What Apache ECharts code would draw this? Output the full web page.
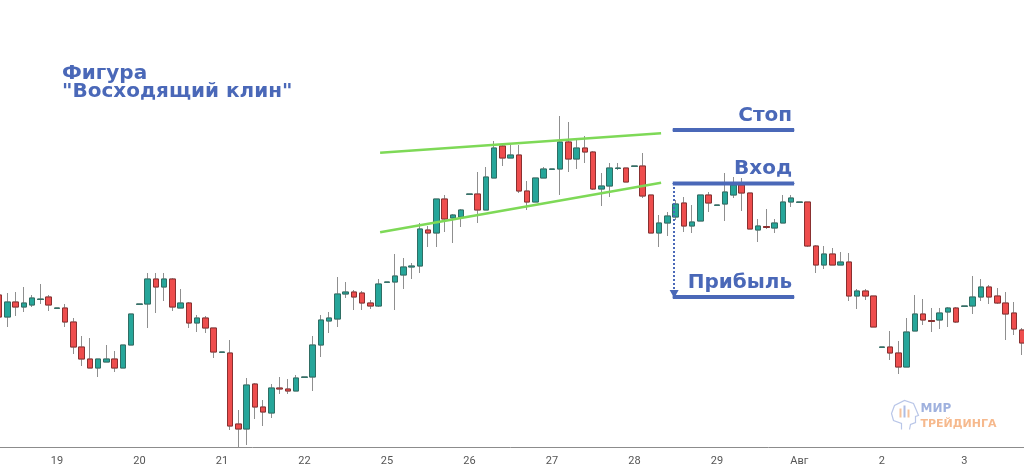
<!DOCTYPE html>
<html>
<head>
<meta charset="utf-8">
<script src="https://cdn.jsdelivr.net/npm/echarts@6/dist/echarts.min.js"></script>
<style>
html,body{margin:0;padding:0;background:#fff;overflow:hidden;width:1024px;height:473px;position:relative;}
#chart{position:absolute;left:-5px;top:0;width:1040px;height:473px;}
</style>
</head>
<body>
<div id="chart"></div>
<script>
// Day tick labels (first label belongs to the partial day before "19")
const dayLabels = ['16','19','20','21','22','25','26','27','28','29','Авг','2','3'];
const barsPerDay = 10;
const firstDayOffset = 3; // bars of first (partial) day that are not visible

// OHLC values (arbitrary price units)
const opens  = [205,183,198,193,195,200.5,203,191.7,192,178,153,141,132,138,141,132,155,195.7,196,221,213,221,192,197,177,182,172,147.7,147,76,71,116,93,87,112,111,109,122.7,123,155,179,181,206,208,207,197,194,217.7,218,225,233,234,270,267,301,282,283,305.7,306,290,322,354,342,345,309,298,322,330.7,331,358,341,352,348,311,314,331.5,332,333.7,334,305,267,277,283,297,274,279,305,294.7,296,305,315,307,270,273.5,272,277,298,297.7,298,254,235,246,235,238,204,209,204,152.7,153,147,133,169,186,179.5,180,188,192,193.7,194,203,213,204,197,187,170];
const closes = [183,198,193,197,202,201,195,192,178,153,141,132,141,141,132,155,186,196,221,213,221,193,197,177,182,172,148,148,74,71,115,93,88,112,111,109,122,123,155,180,182,206,208,203,197,194,216,218,224,233,234,271,267,301,281,285,290,306,290,323,352,342,345,309,298,322,331,331,358,341,352,348,311,314,332,332,318,334,304,267,277,284,296,274,278,305,297,295,308,315,307,271,274,272.5,277,298,302,298,254,235,246,235,238,204,209,204,173,153,147,133,168,186,180,178.5,187,192,178,194,203,213,203,197,186,171,157];
const lows   = [180,173,184,188,193,196,189,191.7,173,146,134,132,123,138,128,132,155,195.7,172,187,199,189,192,172,168,167,142,147.7,70,52,55,81,74,82,106,106,109,122.7,109,143,167,173,202,190,190,191,193,217.7,190,211,221,227,253,253,268,257,273,305.7,277,290,322,334,342,307,290,298,322,330.7,305,328,331,337,310,294,303,330,318,333.7,302,267,253,264,280,268,267,279,288,294.7,279,302,289,271,258,271,267,277,293,297.7,253,227,231,235,235,199,191,200,173,152.7,140,126,133,169,175,168,171,173,177,193.7,186,199,196,196,160,165,145];
const highs  = [208,207,208,213,205,216,205,192,196,182,164,162,141,155,149,155,186,196,227,227,227,222,211,198,185,184,172,148,160,90,122,117,100,116,123,121,125,123,164,185,188,223,218,210,209,200,221,218,246,242,237,277,274,301,305,286,291,306,328,333,359,356,355,355,319,322,333,331,384,378,360,364,349,327,337,337,332,334,347,305,285,288,300,303,295,305,308,295,327,323,322,307,281,291,281,305,305,298,298,255,254,252,248,247,211,211,204,153,169,159,182,205,201,192,192,193,193,194,224,221,215,212,208,198,172];

// Wedge trend lines: [bar index, price]
const upperLine = [[46.18, 347.3], [80.24, 366.7]];
const lowerLine = [[46.18, 267.7], [80.24, 317.3]];
// Trade levels
const levelNames  = ['Стоп', 'Вход', 'Прибыль'];
const levelPrices = [370, 316.5, 203];
const levelStart = 81.66, levelEnd = 96.36;
const arrowX = 81.82, arrowFrom = 313, arrowTo = 206;

const N = opens.length;
const categories = [];
for (let k = 0; k < N; k++) {
  const d = Math.floor((k + firstDayOffset) / barsPerDay);
  const h = (k + firstDayOffset) % barsPerDay;
  categories.push(dayLabels[d] + '|' + h);
}
const ohlc = opens.map((o, i) => [o, closes[i], lows[i], highs[i]]);
const bodies = opens.map((o, i) => [o, closes[i], Math.min(o, closes[i]), Math.max(o, closes[i])]);

const BLUE = '#4a68b8';
const UP = '#26a69a', DOWN = '#ee4d4d';

const levelSeries = levelNames.map((name, i) => {
  const s = {
    type: 'line', xAxisIndex: 1, yAxisIndex: 0, symbol: 'circle', symbolSize: 1, showSymbol: true, silent: true,
    itemStyle: {color: BLUE},
    lineStyle: {color: BLUE, width: 4},
    data: [
      [levelStart, levelPrices[i]],
      {value: [levelEnd, levelPrices[i]], label: {
        show: true, position: 'top', align: 'right', distance: 4, offset: [-2, 0],
        formatter: name, color: BLUE, fontSize: 20, fontWeight: 'bold', fontFamily: 'DejaVu Sans'
      }}
    ]
  };
  if (i === 1) {
    s.markLine = {
      silent: true, symbol: ['none', 'triangle'], symbolSize: [9, 8],
      label: {show: false},
      lineStyle: {color: BLUE, type: 'dotted', width: 2},
      data: [[{coord: [arrowX, arrowFrom]}, {coord: [arrowX, arrowTo]}]]
    };
  }
  return s;
});

const chart = echarts.init(document.getElementById('chart'), null, {renderer: 'canvas'});
chart.setOption({
  animation: false,
  backgroundColor: '#ffffff',
  title: {
    text: 'Фигура\n"Восходящий клин"', left: 67, top: 65, padding: 0,
    textStyle: {color: BLUE, fontSize: 20, fontWeight: 'bold', fontFamily: 'DejaVu Sans', lineHeight: 18}
  },
  grid: {left: 0, right: 8.75, top: 0, bottom: 26},
  xAxis: [
    {
      type: 'category', data: categories, boundaryGap: true,
      axisLine: {show: true, lineStyle: {color: '#8c8c8c', width: 1}},
      axisTick: {show: false},
      splitLine: {show: false},
      axisLabel: {
        interval: (idx, val) => val.split('|')[1] === '0',
        formatter: (val) => val.split('|')[0],
        color: '#555', fontSize: 11, margin: 9, fontFamily: 'Liberation Sans Narrow, Roboto, sans-serif'
      }
    },
    {type: 'value', min: -0.5, max: N - 0.5, show: false}
  ],
  yAxis: {type: 'value', min: 53, max: 500, show: false, splitLine: {show: false}},
  series: [
    {
      type: 'candlestick', data: ohlc, barWidth: 6, silent: true,
      itemStyle: {color: UP, color0: DOWN, borderColor: '#8f8f8f', borderColor0: '#8f8f8f', borderWidth: 1}
    },
    {
      type: 'candlestick', data: bodies, barWidth: 6, silent: true,
      itemStyle: {color: UP, color0: DOWN, borderColor: '#2f6e64', borderColor0: '#8a3030', borderWidth: 1}
    },
    {type: 'line', xAxisIndex: 1, symbol: 'none', silent: true, data: upperLine, lineStyle: {color: '#7ed957', width: 2.5}},
    {type: 'line', xAxisIndex: 1, symbol: 'none', silent: true, data: lowerLine, lineStyle: {color: '#7ed957', width: 2.5}}
  ].concat(levelSeries),
  graphic: [
    {type: 'group', left: 894, top: 398, silent: true, children: [
      {type: 'polyline', shape: {points: [[14,30],[14,24],[6,21],[4,14],[7,6],[17,1],[26,4],[29,11],[31,16],[28,17],[28,23],[23,25],[22,30]]},
       style: {fill: 'none', stroke: '#b9c6e8', lineWidth: 1.2}},
      {type: 'rect', shape: {x: 12, y: 9, width: 2, height: 9}, style: {fill: '#f5c29c'}},
      {type: 'rect', shape: {x: 16, y: 6, width: 2, height: 12}, style: {fill: '#aebde4'}},
      {type: 'rect', shape: {x: 20, y: 10, width: 2, height: 8}, style: {fill: '#f5c29c'}},
      {type: 'text', x: 33, y: 3, style: {text: 'МИР', fill: '#9fb1de', font: 'bold 12px "DejaVu Sans"'}},
      {type: 'text', x: 33, y: 19, style: {text: 'ТРЕЙДИНГА', fill: '#f6b98d', font: 'bold 11px "DejaVu Sans"'}}
    ]}
  ]
});
</script>
</body>
</html>
